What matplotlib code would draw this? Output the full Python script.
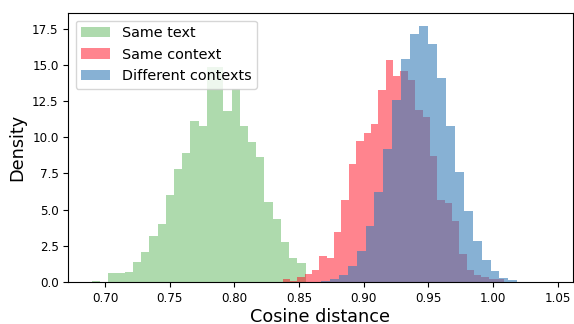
import numpy as np
import matplotlib
matplotlib.use("Agg")
import matplotlib.pyplot as plt

# densities per bin
same_text = [0.07, 0.0, 0.6, 0.6, 0.67, 1.36, 2.05, 3.16, 4.0, 6.0, 7.8, 8.9, 11.1,
             10.8, 14.85, 14.85, 11.8, 13.3, 10.8, 9.7, 8.6, 5.5, 4.35, 2.76, 1.68, 1.3]
same_context = [0.2, 0.07, 0.35, 0.52, 0.83, 1.8, 1.65, 3.45, 5.67, 8.15, 9.74, 10.3,
                10.92, 13.27, 15.34, 14.24, 14.58, 13.96, 11.89, 11.4, 8.7, 5.67, 5.46,
                4.22, 1.94, 0.83, 0.48, 0.35, 0.2, 0.2]
diff_contexts = [0.07, 0.21, 0.48, 1.1, 2.14, 3.87, 6.22, 9.19, 12.58, 15.41, 17.14,
                 17.69, 16.45, 14.1, 10.78, 7.6, 4.9, 2.83, 1.52, 0.76, 0.28, 0.14]

# (first edge, last edge) of each histogram
same_text_range = (0.6896, 0.8550)
same_context_range = (0.8372, 1.0082)
diff_contexts_range = (0.8669, 1.0188)

labels = ["Same text", "Same context", "Different contexts"]

fig = plt.figure(figsize=(5.74, 3.24), dpi=100)
ax = fig.add_axes([0.119, 0.1296, 0.8784, 0.8294])

series = [
    (same_text, same_text_range, "#4daf4a", 0.45),
    (same_context, same_context_range, "#ff0a1e", 0.5),
    (diff_contexts, diff_contexts_range, "#377eb8", 0.6),
]
for (vals, (lo, hi), color, alpha), label in zip(series, labels):
    edges = np.linspace(lo, hi, len(vals) + 1)
    ax.hist(edges[:-1], bins=edges, weights=vals, color=color, alpha=alpha, label=label)

ax.set_xlim(0.6715, 1.0615)
ax.set_ylim(0, 18.56)
ax.tick_params(labelsize=8.6)
ax.set_xlabel("Cosine distance", fontsize=12.7, labelpad=2)
ax.set_ylabel("Density", fontsize=12.7)
ax.legend(loc="upper left", fontsize=10.4)

fig.savefig("out.png", dpi=100)
